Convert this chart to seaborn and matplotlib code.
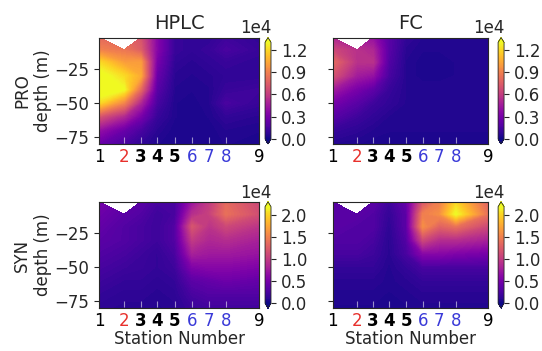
import numpy as np
import matplotlib
matplotlib.use("Agg")
import matplotlib.pyplot as plt
import seaborn as sns

# station positions along the transect and sampled depths
station_x = [1.0, 2.25, 3.08, 3.9, 4.78, 5.65, 6.5, 7.35, 9.0]
station_labels = ["1", "2", "3", "4", "5", "6", "7", "8", "9"]
label_colors = ["black", "#e8302c", "black", "black", "black",
                "#3a3ad8", "#3a3ad8", "#3a3ad8", "black"]
label_weights = ["normal", "normal", "bold", "bold", "bold",
                 "normal", "normal", "normal", "normal"]
depths = [-2, -11, -20, -30, -40, -50, -60, -70, -80]
nan = np.nan

# abundance in units of 1e4 (rows = depths, cols = stations)
pro_hplc = [
    [0.80, nan, 0.70, 0.35, 0.10, 0.08, 0.08, 0.12, 0.08],
    [0.90, 0.85, 0.75, 0.35, 0.10, 0.08, 0.10, 0.15, 0.10],
    [1.20, 1.00, 1.00, 0.30, 0.08, 0.06, 0.08, 0.10, 0.08],
    [1.35, 1.20, 1.05, 0.25, 0.06, 0.05, 0.06, 0.08, 0.08],
    [1.40, 1.30, 0.80, 0.20, 0.05, 0.04, 0.05, 0.10, 0.12],
    [1.20, 0.90, 0.50, 0.15, 0.04, 0.03, 0.05, 0.15, 0.10],
    [0.70, 0.50, 0.30, 0.10, 0.04, 0.03, 0.04, 0.08, 0.06],
    [0.40, 0.25, 0.15, 0.06, 0.03, 0.03, 0.03, 0.05, 0.04],
    [0.25, 0.15, 0.08, 0.04, 0.03, 0.03, 0.03, 0.04, 0.03],
]
pro_fc = [
    [0.50, nan, 0.40, 0.20, 0.08, 0.05, 0.05, 0.05, 0.05],
    [0.65, 0.55, 0.50, 0.20, 0.06, 0.04, 0.04, 0.05, 0.05],
    [0.80, 0.55, 0.55, 0.18, 0.05, 0.03, 0.03, 0.04, 0.05],
    [0.70, 0.45, 0.40, 0.15, 0.05, 0.03, 0.03, 0.04, 0.05],
    [0.45, 0.30, 0.22, 0.10, 0.05, 0.05, 0.05, 0.05, 0.05],
    [0.30, 0.20, 0.12, 0.08, 0.05, 0.05, 0.05, 0.05, 0.05],
    [0.20, 0.12, 0.08, 0.05, 0.05, 0.05, 0.05, 0.05, 0.05],
    [0.10, 0.07, 0.05, 0.04, 0.04, 0.04, 0.04, 0.04, 0.04],
    [0.05, 0.04, 0.03, 0.03, 0.03, 0.03, 0.03, 0.03, 0.03],
]
syn_hplc = [
    [0.50, nan, 0.35, 0.25, 0.25, 0.70, 1.00, 1.35, 1.10],
    [0.45, 0.35, 0.30, 0.20, 0.25, 0.90, 1.05, 1.40, 1.15],
    [0.40, 0.30, 0.25, 0.20, 0.30, 1.20, 0.95, 1.10, 0.95],
    [0.35, 0.30, 0.25, 0.20, 0.30, 1.00, 0.85, 0.90, 0.80],
    [0.30, 0.25, 0.20, 0.15, 0.25, 0.80, 0.75, 0.75, 0.70],
    [0.25, 0.20, 0.18, 0.15, 0.20, 0.55, 0.60, 0.60, 0.55],
    [0.20, 0.15, 0.15, 0.12, 0.15, 0.35, 0.40, 0.45, 0.40],
    [0.15, 0.12, 0.12, 0.10, 0.12, 0.25, 0.30, 0.30, 0.30],
    [0.12, 0.10, 0.10, 0.08, 0.10, 0.18, 0.22, 0.22, 0.22],
]
syn_fc = [
    [0.35, nan, 0.35, 0.20, 0.40, 1.20, 1.50, 2.00, 1.30],
    [0.35, 0.35, 0.30, 0.15, 0.35, 1.50, 1.60, 2.20, 1.40],
    [0.35, 0.30, 0.30, 0.12, 0.35, 1.60, 1.30, 1.40, 1.10],
    [0.30, 0.30, 0.25, 0.10, 0.30, 1.10, 0.90, 0.90, 0.80],
    [0.25, 0.25, 0.20, 0.10, 0.25, 0.60, 0.60, 0.55, 0.50],
    [0.15, 0.15, 0.15, 0.08, 0.15, 0.25, 0.25, 0.25, 0.25],
    [0.10, 0.10, 0.10, 0.08, 0.10, 0.15, 0.15, 0.15, 0.15],
    [0.08, 0.08, 0.08, 0.06, 0.08, 0.10, 0.10, 0.10, 0.10],
    [0.06, 0.06, 0.06, 0.05, 0.06, 0.08, 0.08, 0.08, 0.08],
]

methods = ["HPLC", "FC"]
groups = ["PRO", "SYN"]
fields = [[pro_hplc, pro_fc], [syn_hplc, syn_fc]]
vmax = [1.3e4, 2.2e4]
cbar_ticks = [[0, 3000, 6000, 9000, 12000], [0, 5000, 10000, 15000, 20000]]

sns.set_style("ticks")
plt.rcParams["font.family"] = ["DejaVu Sans"]
plt.rcParams["font.size"] = 12
plt.rcParams["xtick.direction"] = "out"
plt.rcParams["ytick.direction"] = "out"

cmap = sns.color_palette("plasma", as_cmap=True)
X, Y = np.meshgrid(station_x, depths)

fig = plt.figure(figsize=(5.42, 3.51), dpi=100)
ax_left = [0.183, 0.614]
ax_width = [0.295, 0.286]
cb_left = [0.489, 0.919]
ax_bottom = [0.590, 0.122]
h = 0.303

for r in range(2):
    for c in range(2):
        ax = fig.add_axes([ax_left[c], ax_bottom[r], ax_width[c], h])
        cax = fig.add_axes([cb_left[c], ax_bottom[r], 0.011, h])
        Z = np.ma.masked_invalid(np.array(fields[r][c]) * 1e4)
        levels = np.linspace(0, vmax[r], 101)
        cs = ax.contourf(X, Y, Z, levels=levels, cmap=cmap, extend="both")
        ax.scatter(station_x[1:-1], [-77] * 7, marker="|", s=14,
                   color="white", alpha=0.55, linewidths=0.8, zorder=3)
        ax.set_xlim(station_x[0], station_x[-1])
        ax.set_ylim(depths[-1], depths[0])
        ax.set_yticks([-75, -50, -25])
        ax.set_xticks(station_x)
        ax.set_xticklabels(station_labels)
        for lab, col, wt in zip(ax.get_xticklabels(), label_colors, label_weights):
            lab.set_color(col)
            lab.set_fontweight(wt)
        ax.tick_params(axis="x", length=0, pad=3, labelsize=12)
        ax.tick_params(axis="y", labelsize=12)
        for s in ax.spines.values():
            s.set_visible(True)
            s.set_linewidth(0.8)
        if c == 0:
            ax.set_ylabel(f"{groups[r]}\ndepth (m)", fontsize=12, labelpad=2)
        else:
            ax.set_yticklabels([])
        if r == 0:
            ax.set_title(methods[c], fontsize=14, pad=6)
        else:
            ax.set_xlabel("Station Number", fontsize=12, labelpad=0)

        cb = fig.colorbar(cs, cax=cax, ticks=cbar_ticks[r])
        cb.formatter.set_powerlimits((0, 0))
        cb.update_ticks()
        cb.ax.tick_params(labelsize=12, length=3.5)
        cb.ax.yaxis.get_offset_text().set_fontsize(12)
        cb.outline.set_linewidth(0.6)

fig.savefig("out.png", dpi=100)
